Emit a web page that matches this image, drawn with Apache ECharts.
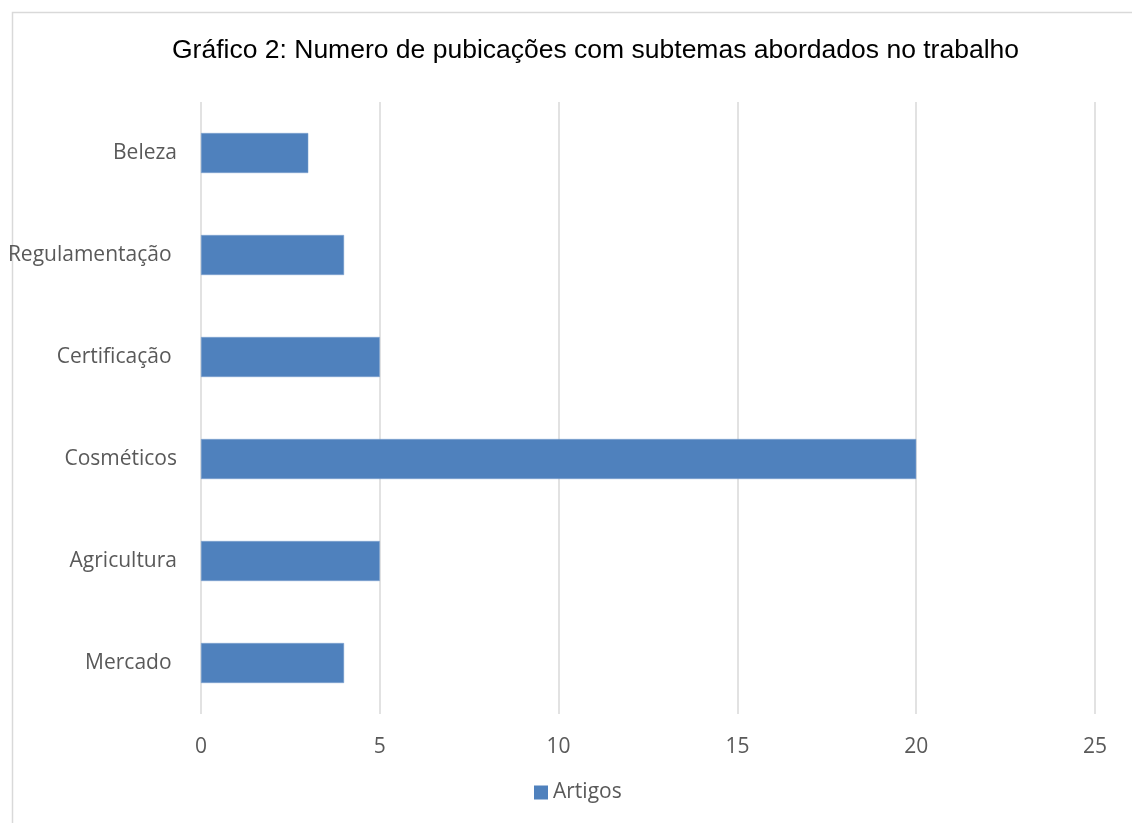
<!DOCTYPE html>
<html>
<head>
<meta charset="utf-8">
<script src="https://cdn.jsdelivr.net/npm/echarts@6/dist/echarts.min.js"></script>
<style>
  html, body { margin: 0; padding: 0; background: #fff; }
  #chart { width: 1132px; height: 823px; }
</style>
</head>
<body>
<div id="chart"></div>
<script>
// Subtopics, listed bottom to top as the category axis draws them
const categories = ['Mercado ', 'Agricultura', 'Cosméticos', 'Certificação ', 'Regulamentação ', 'Beleza'];
const artigos = [4, 5, 20, 5, 4, 3];
const seriesName = 'Artigos';
const titleText = 'Gráfico 2: Numero de pubicações com subtemas abordados no trabalho';

const chart = echarts.init(document.getElementById('chart'), null, { renderer: 'canvas' });

const labelFont = '"Open Sans", "Noto Sans", sans-serif';

chart.setOption({
  animation: false,
  backgroundColor: '#ffffff',
  graphic: [{
    type: 'rect',
    left: 10, top: 10,
    shape: { width: 1140, height: 840 },
    style: { fill: 'none', stroke: '#d9d9d9', lineWidth: 1.5 },
    z: -1
  }],
  title: {
    text: titleText,
    left: 167,
    top: 32,
    textStyle: {
      fontFamily: '"Liberation Sans", Arial, sans-serif',
      fontWeight: 'normal',
      fontSize: 26.5,
      color: '#000000'
    }
  },
  legend: {
    data: [seriesName],
    bottom: 15,
    left: 529,
    icon: 'rect',
    itemWidth: 14,
    itemHeight: 14,
    itemStyle: { borderWidth: 0 },
    textStyle: { fontFamily: labelFont, fontSize: 21, color: '#595959' }
  },
  grid: { left: 201, right: 37, top: 102, bottom: 109 },
  xAxis: {
    type: 'value',
    min: 0,
    max: 25,
    interval: 5,
    axisLine: { show: false },
    axisTick: { show: false },
    splitLine: { show: true, lineStyle: { color: '#d9d9d9', width: 1.5 } },
    axisLabel: { fontFamily: labelFont, fontSize: 21, color: '#595959', margin: 23 }
  },
  yAxis: {
    type: 'category',
    data: categories,
    axisLine: { show: false },
    axisTick: { show: false },
    axisLabel: { fontFamily: labelFont, fontSize: 21, color: '#595959', margin: 24 }
  },
  series: [{
    name: seriesName,
    type: 'bar',
    data: artigos,
    barWidth: 40,
    itemStyle: { color: '#4f81bd', borderColor: '#7ea3d0', borderWidth: 0.5 }
  }]
});
</script>
</body>
</html>
